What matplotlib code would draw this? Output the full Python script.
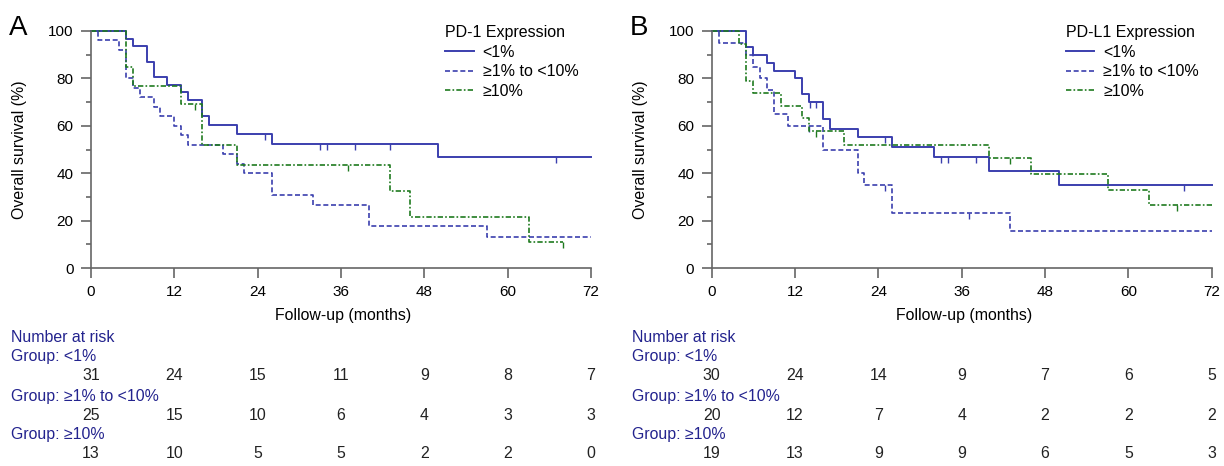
import numpy as np
import matplotlib
matplotlib.use("Agg")
import matplotlib.pyplot as plt
from matplotlib.path import Path
from matplotlib.transforms import blended_transform_factory

plt.rcParams['font.family'] = ['Liberation Sans', 'DejaVu Sans']

# ---- data ----
xticks = [0, 12, 24, 36, 48, 60, 72]
groups = ['<1%', '≥1% to <10%', '≥10%']

# panel A: PD-1
a_lo_t = [0, 5, 6, 8, 9, 11, 13, 14, 16, 17, 21, 26, 50, 72]
a_lo_s = [100, 96.8, 93.5, 87.1, 80.6, 77.4, 74.2, 71.0, 64.0, 60.2, 56.6, 52.5, 46.8, 46.8]
a_lo_c = [25, 33, 34, 38, 43, 67]

a_mid_t = [0, 1, 4, 5, 6, 7, 9, 10, 12, 13, 14, 19, 21, 22, 26, 32, 40, 57, 72]
a_mid_s = [100, 96, 92, 80, 76, 72, 68, 64, 60, 56, 52, 48, 44, 40, 31, 26.7, 17.6, 13.1, 13.1]
a_mid_c = []

a_hi_t = [0, 5, 6, 13, 16, 21, 43, 46, 63, 68]
a_hi_s = [100, 84.6, 76.9, 69.2, 52.1, 43.3, 32.4, 21.5, 10.8, 10.8]
a_hi_c = [15, 37, 68]

a_risk_lo = [31, 24, 15, 11, 9, 8, 7]
a_risk_mid = [25, 15, 10, 6, 4, 3, 3]
a_risk_hi = [13, 10, 5, 5, 2, 2, 0]

# panel B: PD-L1
b_lo_t = [0, 5, 6, 8, 9, 12, 13, 14, 16, 17, 21, 26, 32, 40, 50, 72]
b_lo_s = [100, 93.3, 90.0, 86.7, 83.3, 80.0, 73.3, 70.0, 62.7, 58.7, 55.2, 51.0, 46.7, 40.8, 34.9, 34.9]
b_lo_c = [14.1, 15, 25, 33, 34, 38, 68]

b_mid_t = [0, 1, 5, 6, 7, 8, 9, 11, 16, 21, 22, 26, 43, 72]
b_mid_s = [100, 95, 90, 85, 80, 75, 65, 60, 50, 40, 35, 23.3, 15.6, 15.6]
b_mid_c = [14, 25, 37]

b_hi_t = [0, 4, 5, 6, 10, 13, 14, 19, 40, 46, 57, 63, 72]
b_hi_s = [100, 94.7, 78.9, 73.7, 68.4, 63.2, 57.9, 52.0, 46.5, 39.6, 33.0, 26.4, 26.4]
b_hi_c = [15, 43, 67]

b_risk_lo = [30, 24, 14, 9, 7, 6, 5]
b_risk_mid = [20, 12, 7, 4, 2, 2, 2]
b_risk_hi = [19, 13, 9, 9, 6, 5, 3]

BLUE = '#3b3fae'
GREEN = '#1f7a1f'
NAVY = '#23238e'
AXC = '#666666'
FS = 11.4     # axis label / risk table
TFS = 11      # tick labels
LFS = 11.5    # legend

styles = [dict(color=BLUE, lw=1.4, ls='-'),
          dict(color=BLUE, lw=1.2, ls=(0, (3, 1.6))),
          dict(color=GREEN, lw=1.2, ls=(0, (3.2, 1.3, 1, 1.3)))]

tick_down = Path([(0, 0), (0, -1)])

W, H = 1224, 466
fig = plt.figure(figsize=(W / 100, H / 100), dpi=100)


def step_val(t, s, c):
    i = np.searchsorted(t, c, side='right') - 1
    return np.asarray(s)[i]


def panel(left_px, letter, title, curves, risks):
    ax = fig.add_axes([left_px / W, 1 - 268 / H, 500 / W, 237 / H])
    for (t, s, c), st, lab in zip(curves, styles, groups):
        ax.step(t, s, where='post', label=lab, clip_on=False, **st)
        if len(c):
            ax.plot(c, step_val(t, s, c), ls='none', marker=tick_down, ms=9,
                    mew=1.0, color=st['color'], clip_on=False)
    ax.set_xlim(0, 72)
    ax.set_ylim(0, 100)
    ax.set_xticks(xticks)
    ax.set_yticks(range(0, 101, 20))
    ax.set_yticks(range(10, 100, 20), minor=True)
    for sp in ['top', 'right']:
        ax.spines[sp].set_visible(False)
    for sp in ['left', 'bottom']:
        ax.spines[sp].set_color(AXC)
        ax.spines[sp].set_linewidth(1.2)
    ax.tick_params(which='major', length=7, width=1.2, color=AXC, labelsize=TFS, pad=5.5)
    ax.tick_params(which='minor', length=3.6, width=1.2, color=AXC)
    ax.set_xlabel('Follow-up (months)', fontsize=FS)
    ax.xaxis.set_label_coords(252 / 500, (268 - 308) / 237)
    ax.set_ylabel('Overall survival (%)', fontsize=FS)
    ax.yaxis.set_label_coords(-64 / 500, 0.5)
    ax.legend(loc='upper left', bbox_to_anchor=(0.708, 1.024), frameon=False,
              title=title, fontsize=LFS, title_fontsize=LFS, handlelength=1.8,
              handletextpad=0.55, labelspacing=0.28, borderpad=0, borderaxespad=0,
              alignment='left')
    fig.text((left_px - 82) / W, 1 - 35 / H, letter, fontsize=20, va='baseline')

    # number at risk table
    lx = (left_px - 80) / W
    fig.text(lx, 1 - 337 / H, 'Number at risk', color=NAVY, fontsize=FS, va='center')
    tr = blended_transform_factory(ax.transData, fig.transFigure)
    rows = [(356, 376), (396, 415), (435, 454)]
    for (gy, ny), g, r in zip(rows, groups, risks):
        fig.text(lx, 1 - gy / H, 'Group: ' + g, color=NAVY, fontsize=FS, va='center')
        for x, n in zip(xticks, r):
            ax.text(x, 1 - ny / H, str(n), transform=tr, ha='center', va='center',
                    fontsize=FS, color='#222222')
    return ax


panel(91, 'A', 'PD-1 Expression',
      [(a_lo_t, a_lo_s, a_lo_c), (a_mid_t, a_mid_s, a_mid_c), (a_hi_t, a_hi_s, a_hi_c)],
      [a_risk_lo, a_risk_mid, a_risk_hi])
panel(711.7, 'B', 'PD-L1 Expression',
      [(b_lo_t, b_lo_s, b_lo_c), (b_mid_t, b_mid_s, b_mid_c), (b_hi_t, b_hi_s, b_hi_c)],
      [b_risk_lo, b_risk_mid, b_risk_hi])

fig.savefig('out.png', dpi=100)
